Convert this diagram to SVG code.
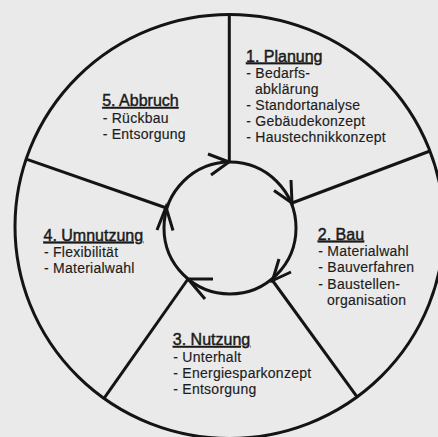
<svg xmlns="http://www.w3.org/2000/svg" width="438" height="437" viewBox="0 0 438 437">
<style>
.bg{fill:#eaeaea}
.ln{fill:none;stroke:#141414;stroke-width:3}
.ar{fill:none;stroke:#141414;stroke-width:3;stroke-linejoin:miter;stroke-linecap:butt}
.h{font-family:"Liberation Sans",Arial,sans-serif;font-size:16px;fill:#1a1a1a;stroke:#1a1a1a;stroke-width:0.45px;text-decoration:underline}
.t{font-family:"Liberation Sans",Arial,sans-serif;font-size:14px;fill:#1c1c1c;stroke:#1c1c1c;stroke-width:0.15px;letter-spacing:0.25px}
</style>
<rect class="bg" x="0" y="0" width="438" height="437"/>
<g id="connectors">
<ellipse class="ln" cx="229.5" cy="226.5" rx="214.5" ry="212"/>
<circle class="ln" cx="230" cy="228" r="66"/>
<line class="ln" x1="229.3" y1="14.5" x2="229.3" y2="162"/>
<line class="ln" x1="292" y1="203" x2="430" y2="151"/>
<line class="ln" x1="272.5" y1="280.5" x2="357.8" y2="397.8"/>
<line class="ln" x1="188" y1="279" x2="104" y2="398.3"/>
<line class="ln" x1="166.5" y1="208" x2="27" y2="159.3"/>
<polyline class="ar" points="208,154 229,162 211,175"/>
<polyline class="ar" points="291,180 292,203 274,190.5"/>
<polyline class="ar" points="279,259 272.5,280.5 291,272"/>
<polyline class="ar" points="213,279 188,279 205,299"/>
<polyline class="ar" points="157,230 166,207 173,230.5"/>
</g>
<g id="planung">
<text class="h" x="246" y="61.5">1. Planung</text>
<text class="t" x="246.3" y="77.6">- Bedarfs-</text>
<text class="t" x="255" y="93.6">abklärung</text>
<text class="t" x="246.3" y="109.8">- Standortanalyse</text>
<text class="t" x="246.3" y="125.9">- Gebäudekonzept</text>
<text class="t" x="246.3" y="142">- Haustechnikkonzept</text>
</g>
<g id="bau">
<text class="h" x="317.8" y="239.7">2. Bau</text>
<text class="t" x="318.3" y="255.9">- Materialwahl</text>
<text class="t" x="318.3" y="272.3">- Bauverfahren</text>
<text class="t" x="318.3" y="288.8">- Baustellen-</text>
<text class="t" x="327" y="305">organisation</text>
</g>
<g id="nutzung">
<text class="h" x="172.8" y="345">3. Nutzung</text>
<text class="t" x="173.3" y="361.6">- Unterhalt</text>
<text class="t" x="173.3" y="378.1">- Energiesparkonzept</text>
<text class="t" x="173.3" y="394.4">- Entsorgung</text>
</g>
<g id="umnutzung">
<text class="h" x="43.5" y="240.7">4. Umnutzung</text>
<text class="t" x="44" y="256.5">- Flexibilität</text>
<text class="t" x="44" y="273">- Materialwahl</text>
</g>
<g id="abbruch">
<text class="h" x="102.2" y="106">5. Abbruch</text>
<text class="t" x="102.7" y="122.7">- Rückbau</text>
<text class="t" x="102.7" y="139.2">- Entsorgung</text>
</g>
</svg>
